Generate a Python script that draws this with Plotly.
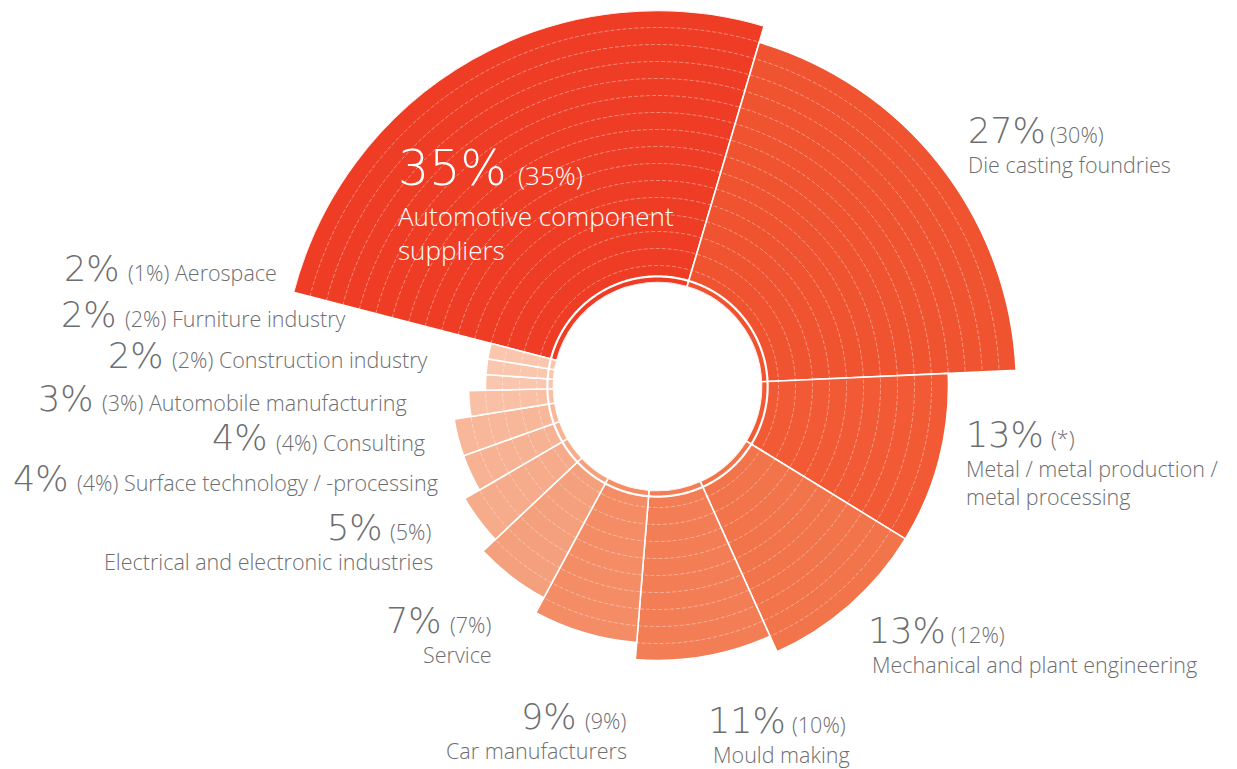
import numpy as np
import plotly.graph_objects as go

# Sector shares of this year's customers (%), previous year in brackets
categories = [
    "Automotive component suppliers",
    "Die casting foundries",
    "Metal / metal production / metal processing",
    "Mechanical and plant engineering",
    "Mould making",
    "Car manufacturers",
    "Service",
    "Electrical and electronic industries",
    "Surface technology / -processing",
    "Consulting",
    "Automobile manufacturing",
    "Construction industry",
    "Furniture industry",
    "Aerospace",
]
share_now = [35, 27, 13, 13, 11, 9, 7, 5, 4, 4, 3, 2, 2, 2]
share_prev = ["35%", "30%", "*", "12%", "10%", "9%", "7%", "5%", "4%", "4%", "3%", "2%", "2%", "1%"]
# number of rings each sector reaches outwards
ring_level = [16, 15, 11, 11, 10, 9, 8, 7, 6, 6, 5, 4, 4, 4]

palette = [
    "#EE3D24", "#F0532F", "#F15A34", "#F2744A", "#F37D55", "#F48C66", "#F5A07C",
    "#F6AB8B", "#F7B293", "#F8B799", "#F9C0A5", "#FAC6AD", "#FAC6AD", "#FAC6AD",
]

W, H = 1237, 769
CX, CY = 657.5, 386.5          # centre of the rose, px
R_OUT, R_HOLE = 376.0, 104.0   # outer radius of the axis, hole radius, px
MAX_LEVEL = 16

deg_per_pct = 360.0 / sum(share_now)
widths = [v * deg_per_pct for v in share_now]
centres = list(np.cumsum(widths) - np.array(widths) / 2)

fig = go.Figure()
fig.add_trace(go.Barpolar(
    r=ring_level,
    theta=centres,
    width=widths,
    marker=dict(color=palette, line=dict(color="white", width=1.6)),
    hoverinfo="skip",
    showlegend=False,
))

# fine dashed rings drawn over the sectors
ring_theta = np.linspace(0, 360, 721)
for k in range(1, MAX_LEVEL):
    fig.add_trace(go.Scatterpolar(
        r=np.full(ring_theta.shape, k), theta=ring_theta, mode="lines",
        line=dict(color="rgba(255,255,255,0.5)", width=0.8, dash="4px,2px"),
        hoverinfo="skip", showlegend=False,
    ))
# solid white ring close to the hole
fig.add_trace(go.Scatterpolar(
    r=np.full(ring_theta.shape, 0.36), theta=ring_theta, mode="lines",
    line=dict(color="white", width=2.2),
    hoverinfo="skip", showlegend=False,
))

GREY = "#6d6e71"
TEXT_FONT = "Open Sans"
FIGURE_FONT = "DejaVu Sans"
# (ascent, descent) in em, used to sit text on a baseline
METRICS = {TEXT_FONT: (1.069, 0.293), FIGURE_FONT: (0.928, 0.236)}


def px(x, y):
    return x / W, 1 - y / H


def add_text(x, baseline, lines, size, align="left", color=GREY, family=TEXT_FONT):
    """Place one or more lines of text with the first line on `baseline`."""
    if isinstance(lines, str):
        lines = [lines]
    asc, desc = METRICS[family]
    top = baseline - asc * size
    bottom = baseline + 1.3 * size * (len(lines) - 1) + desc * size
    ax, ay = px(x, (top + bottom) / 2)
    fig.add_annotation(
        x=ax, y=ay, xref="paper", yref="paper", text="<br>".join(lines),
        showarrow=False, xanchor=align, yanchor="middle", align=align, borderpad=0,
        font=dict(family=family, size=size, color=color, weight=300),
    )


BIG, SMALL = 35, 21.5
LINE = 30.0

# (x of big figure, x of bracket, first baseline, name anchor, name x, name lines)
stacked = {
    1: (966.7, 1049.0, 143.3, "left", 966.7, ["Die casting foundries"]),
    2: (965.0, 1050.0, 446.7, "left", 965.0, ["Metal / metal production /", "metal processing"]),
    3: (866.7, 950.0, 643.3, "left", 870.7, ["Mechanical and plant engineering"]),
    4: (707.0, 790.5, 733.3, "left", 711.5, ["Mould making"]),
    5: (520.0, 584.0, 729.0, "right", 628.3, ["Car manufacturers"]),
    6: (385.0, 449.0, 633.3, "right", 493.3, ["Service"]),
    7: (326.0, 389.0, 540.0, "right", 434.0, ["Electrical and electronic industries"]),
}
for i, (xb, xs, base, nalign, nx, names) in stacked.items():
    add_text(xb, base, f"{share_now[i]}%", BIG, family=FIGURE_FONT)
    add_text(xs, base, f"({share_prev[i]})", SMALL)
    add_text(nx, base + LINE, names, SMALL, nalign)

# one-line labels on the left: (x of big figure, x of bracket, baseline)
single_line = {
    8: (12.0, 76.0, 490.7),
    9: (211.0, 275.0, 450.5),
    10: (37.0, 101.0, 411.2),
    11: (107.0, 171.0, 368.3),
    12: (60.0, 124.0, 327.3),
    13: (63.0, 127.0, 281.0),
}
for i, (xb, xs, base) in single_line.items():
    add_text(xb, base, f"{share_now[i]}%", BIG, family=FIGURE_FONT)
    add_text(xs, base, f"({share_prev[i]}) {categories[i]}", SMALL)

# the largest sector carries its label inside, in white
add_text(396.7, 185.0, f"{share_now[0]}%", 49, color="white", family=FIGURE_FONT)
add_text(516.7, 185.0, f"({share_prev[0]})", 26, color="white")
add_text(396.7, 226.0, ["Automotive component", "suppliers"], 26, color="white")

fig.update_layout(
    width=W, height=H,
    margin=dict(l=0, r=0, t=0, b=0),
    paper_bgcolor="white",
    polar=dict(
        domain=dict(x=[(CX - R_OUT) / W, (CX + R_OUT) / W],
                    y=[(H - CY - R_OUT) / H, (H - CY + R_OUT) / H]),
        bgcolor="white",
        hole=R_HOLE / R_OUT,
        bargap=0,
        radialaxis=dict(range=[0, MAX_LEVEL], showgrid=False, showline=False,
                        showticklabels=False, ticks=""),
        angularaxis=dict(direction="clockwise", rotation=165.5, showgrid=False,
                         showline=False, showticklabels=False, ticks=""),
    ),
)

fig.write_html("out.html")
